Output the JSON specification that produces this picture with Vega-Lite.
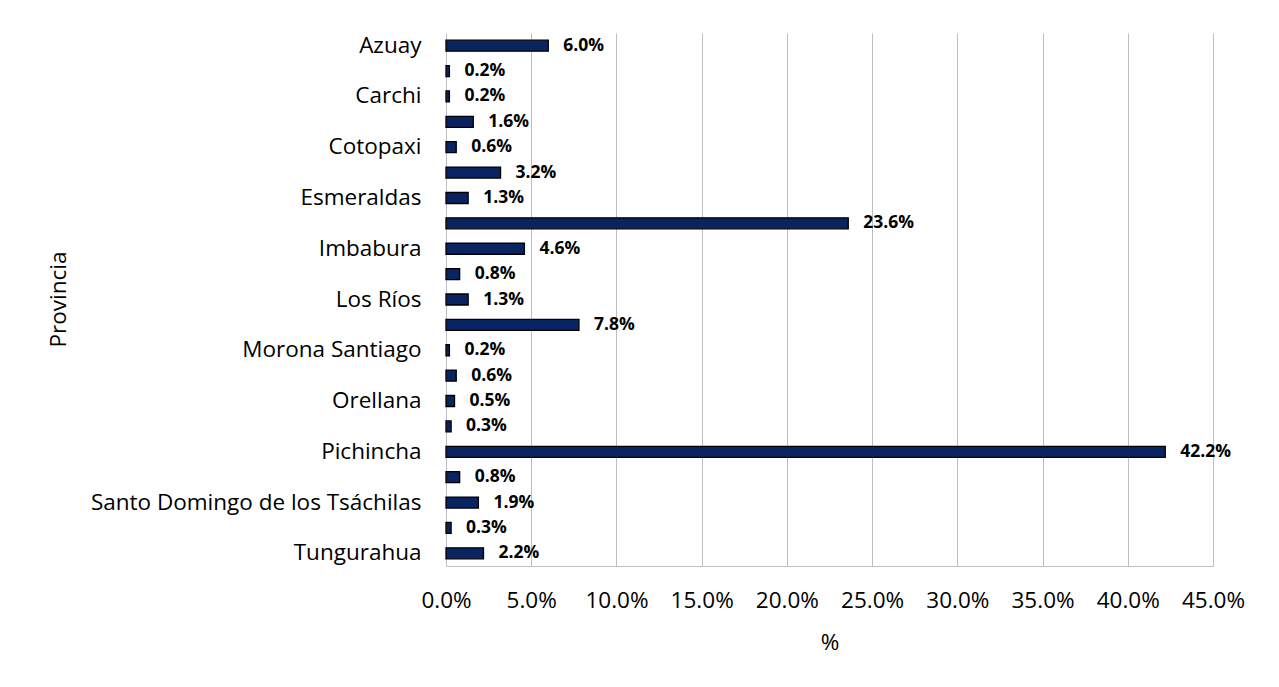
{
  "$schema": "https://vega.github.io/schema/vega-lite/v6.json",
  "autosize": "none",
  "width": 767,
  "height": 533,
  "padding": {"left": 446, "top": 33, "right": 66, "bottom": 88},
  "background": "white",
  "data": {
    "values": [
      {"provincia": "Azuay", "pct": 0.060},
      {"provincia": "Bolívar", "pct": 0.002},
      {"provincia": "Carchi", "pct": 0.002},
      {"provincia": "Chimborazo", "pct": 0.016},
      {"provincia": "Cotopaxi", "pct": 0.006},
      {"provincia": "El Oro", "pct": 0.032},
      {"provincia": "Esmeraldas", "pct": 0.013},
      {"provincia": "Guayas", "pct": 0.236},
      {"provincia": "Imbabura", "pct": 0.046},
      {"provincia": "Loja", "pct": 0.008},
      {"provincia": "Los Ríos", "pct": 0.013},
      {"provincia": "Manabí", "pct": 0.078},
      {"provincia": "Morona Santiago", "pct": 0.002},
      {"provincia": "Napo", "pct": 0.006},
      {"provincia": "Orellana", "pct": 0.005},
      {"provincia": "Pastaza", "pct": 0.003},
      {"provincia": "Pichincha", "pct": 0.422},
      {"provincia": "Santa Elena", "pct": 0.008},
      {"provincia": "Santo Domingo de los Tsáchilas", "pct": 0.019},
      {"provincia": "Sucumbíos", "pct": 0.003},
      {"provincia": "Tungurahua", "pct": 0.022}
    ]
  },
  "encoding": {
    "y": {
      "field": "provincia",
      "type": "nominal",
      "sort": null,
      "scale": {"paddingInner": 0, "paddingOuter": 0},
      "axis": {
        "title": "Provincia",
        "labelExpr": "indexof(['Azuay','Carchi','Cotopaxi','Esmeraldas','Imbabura','Los Ríos','Morona Santiago','Orellana','Pichincha','Santo Domingo de los Tsáchilas','Tungurahua'], datum.value) >= 0 ? datum.value : ''",
        "ticks": false,
        "domain": false,
        "labelPadding": 25,
        "labelFont": "Open Sans",
        "labelFontSize": 22.5,
        "labelColor": "#000000",
        "labelLimit": 500,
        "titleFont": "Open Sans",
        "titleFontSize": 22.5,
        "titleFontWeight": "normal",
        "titleColor": "#000000",
        "titleX": -388,
        "titleY": 266,
        "titleAngle": -90,
        "titleAlign": "center",
        "titleBaseline": "middle"
      }
    },
    "x": {
      "field": "pct",
      "type": "quantitative",
      "scale": {"domain": [0, 0.45], "nice": false},
      "axis": {
        "title": "%",
        "values": [0, 0.05, 0.1, 0.15, 0.2, 0.25, 0.3, 0.35, 0.4, 0.45],
        "format": ".1%",
        "ticks": false,
        "labelPadding": 23,
        "labelFlush": false,
        "labelFont": "Open Sans",
        "labelFontSize": 22.5,
        "labelColor": "#000000",
        "titleFont": "Open Sans",
        "titleFontSize": 22.5,
        "titleFontWeight": "normal",
        "titleColor": "#000000",
        "titlePadding": 20,
        "grid": true,
        "gridColor": "#bfbfbf",
        "domainColor": "#bfbfbf",
        "labelOverlap": false
      }
    }
  },
  "layer": [
    {
      "mark": {"type": "bar", "height": 11, "fill": "#0a2462", "stroke": "#000000", "strokeWidth": 1.3}
    },
    {
      "mark": {"type": "text", "align": "left", "baseline": "middle", "dx": 15, "font": "Open Sans", "fontWeight": "bold", "fontSize": 17.5, "color": "#000000"},
      "encoding": {"text": {"field": "pct", "type": "quantitative", "format": ".1%"}}
    }
  ],
  "config": {
    "view": {"stroke": null},
    "axisY": {"grid": false}
  }
}
